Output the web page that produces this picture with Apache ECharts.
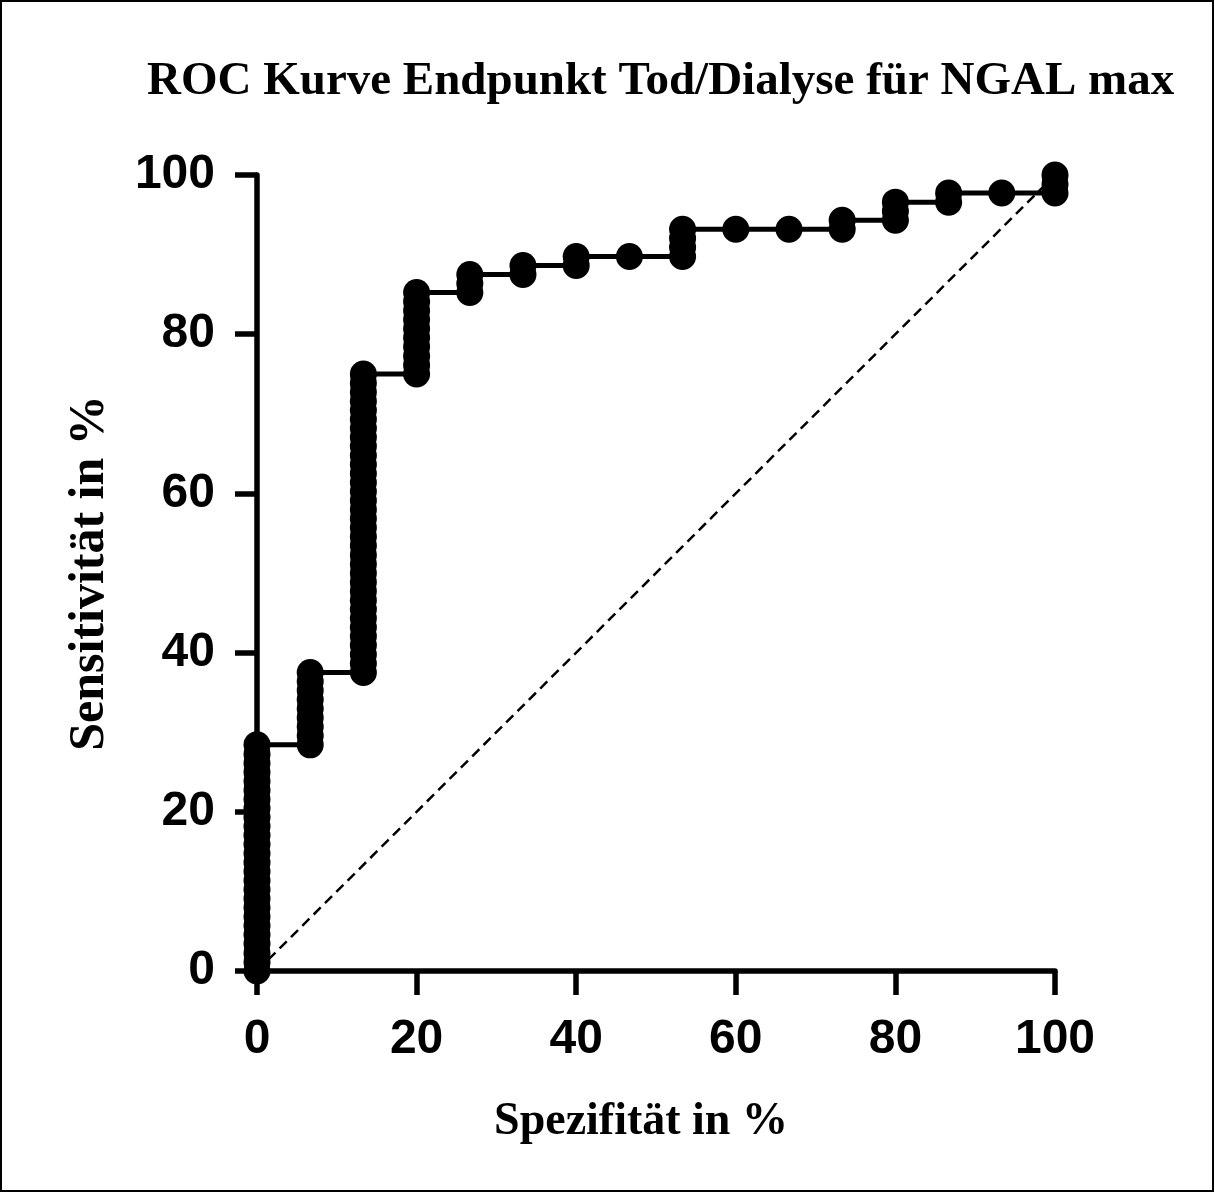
<!DOCTYPE html>
<html>
<head>
<meta charset="utf-8">
<script src="https://cdn.jsdelivr.net/npm/echarts@6/dist/echarts.min.js"></script>
<style>
html,body{margin:0;padding:0;background:#fff;}
#chart{width:1215px;height:1193px;}
</style>
</head>
<body>
<div id="chart"></div>
<script>
// ---- data ----
const chartTitle = 'ROC Kurve Endpunkt Tod/Dialyse für NGAL max';
const xAxisTitle = 'Spezifität in %';
const yAxisTitle = 'Sensitivität in %';
const xTicks = [0, 20, 40, 60, 80, 100];
const yTicks = [0, 20, 40, 60, 80, 100];

// x position of each ROC point (100% - specificity, as plotted)
const rocX = [
  0,0,0,0,0,0,0,0,0,0,0,0,0,0,0,0,0,0,0,0,0,0,0,0,0,0,
  6.67,6.67,6.67,6.67,6.67,6.67,6.67,6.67,6.67,
  13.33,13.33,13.33,13.33,13.33,13.33,13.33,13.33,13.33,13.33,13.33,13.33,13.33,13.33,13.33,13.33,13.33,
  13.33,13.33,13.33,13.33,13.33,13.33,13.33,13.33,13.33,13.33,13.33,13.33,13.33,13.33,13.33,13.33,13.33,
  20,20,20,20,20,20,20,20,20,20,
  26.67,26.67,26.67,
  33.33,33.33,
  40,40,
  46.67,
  53.33,53.33,53.33,53.33,
  60,
  66.67,
  73.33,73.33,
  80,80,80,
  86.67,86.67,
  93.33,
  100,100,100
];
// sensitivity of each ROC point
const rocY = [
  0,1.14,2.27,3.41,4.55,5.68,6.82,7.95,9.09,10.23,11.36,12.5,13.64,14.77,15.91,17.05,18.18,19.32,20.45,21.59,22.73,23.86,25,26.14,27.27,28.41,
  28.41,29.55,30.68,31.82,32.95,34.09,35.23,36.36,37.5,
  37.5,38.64,39.77,40.91,42.05,43.18,44.32,45.45,46.59,47.73,48.86,50,51.14,52.27,53.41,54.55,55.68,
  56.82,57.95,59.09,60.23,61.36,62.5,63.64,64.77,65.91,67.05,68.18,69.32,70.45,71.59,72.73,73.86,75,
  75,76.14,77.27,78.41,79.55,80.68,81.82,82.95,84.09,85.23,
  85.23,86.36,87.5,
  87.5,88.64,
  88.64,89.77,
  89.77,
  89.77,90.91,92.05,93.18,
  93.18,
  93.18,
  93.18,94.32,
  94.32,95.45,96.59,
  96.59,97.73,
  97.73,
  97.73,98.86,100
];
// line of identity
const refX = [0, 100];
const refY = [0, 100];

const rocData = rocX.map((x, i) => [x, rocY[i]]);
const refData = refX.map((x, i) => [x, refY[i]]);

const chart = echarts.init(document.getElementById('chart'), null, {renderer: 'canvas'});
const axisFont = {fontFamily: 'Liberation Sans', fontWeight: 'bold', fontSize: 48, color: '#000'};

chart.setOption({
  backgroundColor: '#fff',
  animation: false,
  title: {
    text: chartTitle,
    left: 142,
    top: 53,
    textStyle: {fontFamily: 'Liberation Serif', fontWeight: 'bold', fontSize: 47, color: '#000'}
  },
  graphic: [{
    type: 'rect',
    shape: {x: 1, y: 1, width: 1212, height: 1190},
    style: {fill: null, stroke: '#000', lineWidth: 2},
    silent: true
  }],
  grid: {left: 257, right: 160, top: 175, bottom: 222},
  xAxis: {
    type: 'value',
    min: 0, max: 100, interval: 20,
    name: xAxisTitle,
    nameLocation: 'middle',
    nameGap: 128,
    nameTextStyle: {fontFamily: 'Liberation Serif', fontWeight: 'bold', fontSize: 46, color: '#000', padding: [0, 30, 0, 0]},
    axisLine: {show: true, lineStyle: {color: '#000', width: 5.5}},
    axisTick: {show: true, length: 24, lineStyle: {color: '#000', width: 5.5}},
    axisLabel: Object.assign({margin: 45, formatter: v => xTicks.includes(v) ? String(v) : ''}, axisFont),
    splitLine: {show: false}
  },
  yAxis: {
    type: 'value',
    min: 0, max: 100, interval: 20,
    name: yAxisTitle,
    nameLocation: 'middle',
    nameGap: 142,
    nameRotate: 90,
    nameTextStyle: {fontFamily: 'Liberation Serif', fontWeight: 'bold', fontSize: 50, color: '#000'},
    axisLine: {show: true, lineStyle: {color: '#000', width: 5.5}},
    axisTick: {show: true, length: 22, lineStyle: {color: '#000', width: 5.5}},
    axisLabel: Object.assign({margin: 42, formatter: v => yTicks.includes(v) ? String(v) : ''}, axisFont),
    splitLine: {show: false}
  },
  series: [
    {
      type: 'line',
      data: refData,
      symbol: 'none',
      clip: false,
      z: 1,
      lineStyle: {color: '#000', width: 2.5, type: [10, 6]}
    },
    {
      type: 'line',
      data: rocData,
      symbol: 'circle',
      symbolSize: 27,
      showAllSymbol: true,
      clip: false,
      z: 3,
      itemStyle: {color: '#000', borderWidth: 0},
      lineStyle: {color: '#000', width: 5}
    }
  ]
});
</script>
</body>
</html>
